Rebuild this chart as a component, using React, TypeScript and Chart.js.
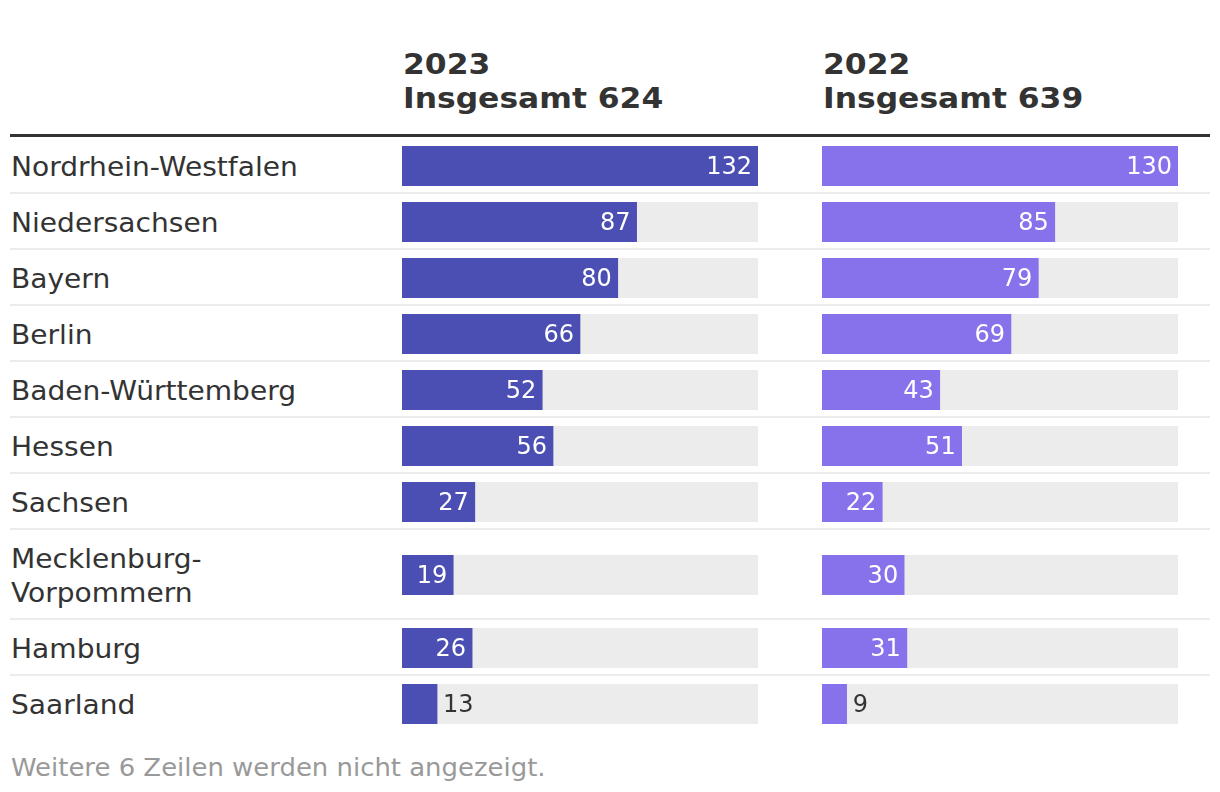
import React, { useEffect, useRef } from "react";
import { Chart, registerables } from "chart.js";

Chart.register(...registerables);

const categories: string[][] = [
  ["Nordrhein-Westfalen"],
  ["Niedersachsen"],
  ["Bayern"],
  ["Berlin"],
  ["Baden-Württemberg"],
  ["Hessen"],
  ["Sachsen"],
  ["Mecklenburg-", "Vorpommern"],
  ["Hamburg"],
  ["Saarland"],
];
const values2023: number[] = [132, 87, 80, 66, 52, 56, 27, 19, 26, 13];
const values2022: number[] = [130, 85, 79, 69, 43, 51, 22, 30, 31, 9];
const columnYears: string[] = ["2023", "2022"];
const columnTotals: string[] = ["Insgesamt 624", "Insgesamt 639"];
const footnote = "Weitere 6 Zeilen werden nicht angezeigt.";

const FONT = "'DejaVu Sans', Verdana, sans-serif";
const COLORS = ["#4b4fb4", "#8872eb"];
const TRACK = "#ececec";
const TEXT = "#333333";

const valueLabelPlugin = {
  id: "valueLabel",
  afterDatasetsDraw(chart: any) {
    const ctx = chart.ctx;
    const meta = chart.getDatasetMeta(0);
    const ds = chart.data.datasets[0];
    const max = chart.options.scales.x.max;
    meta.data.forEach((bar: any, i: number) => {
      const v = ds.data[i] as number;
      const inside = v / max > 0.12;
      ctx.save();
      ctx.font = `24px ${FONT}`;
      ctx.textBaseline = "middle";
      if (inside) {
        ctx.fillStyle = "#ffffff";
        ctx.textAlign = "right";
        ctx.fillText(String(v), bar.x - 6, bar.y + 2);
      } else {
        ctx.fillStyle = TEXT;
        ctx.textAlign = "left";
        ctx.fillText(String(v), bar.x + 6, bar.y + 2);
      }
      ctx.restore();
    });
  },
};

function BarCell({ value, max, color, label }: { value: number; max: number; color: string; label: string }) {
  const ref = useRef<HTMLCanvasElement | null>(null);
  useEffect(() => {
    if (!ref.current) return;
    const chart = new Chart(ref.current, {
      type: "bar",
      data: {
        labels: [label],
        datasets: [
          { data: [value], backgroundColor: color, barPercentage: 1, categoryPercentage: 1, order: 0, grouped: false } as any,
          { data: [max], backgroundColor: TRACK, barPercentage: 1, categoryPercentage: 1, order: 1, grouped: false } as any,
        ],
      },
      options: {
        indexAxis: "y",
        animation: false,
        responsive: false,
        maintainAspectRatio: false,
        devicePixelRatio: 1,
        layout: { padding: 0 },
        plugins: { legend: { display: false }, tooltip: { enabled: false } },
        scales: {
          x: { display: false, min: 0, max },
          y: { display: false },
        },
      } as any,
      plugins: [valueLabelPlugin],
    });
    return () => chart.destroy();
  }, [value, max, color, label]);
  return <canvas ref={ref} width={356} height={40} style={{ display: "block", width: 356, height: 40 }} />;
}

export default function App() {
  const max2023 = Math.max(...values2023);
  const max2022 = Math.max(...values2022);
  const rowHeights = categories.map((c) => (c.length > 1 ? 90 : 56));
  const rowTops: number[] = [];
  let acc = 137;
  rowHeights.forEach((h) => {
    rowTops.push(acc);
    acc += h;
  });
  const colLefts = [402, 822];

  return (
    <div style={{ position: "absolute", left: 0, top: 0, width: 1220, height: 792, background: "#fff", fontFamily: FONT, color: TEXT, overflow: "hidden" }}>
      {columnYears.map((y, ci) => (
        <div key={y} style={{ position: "absolute", left: colLefts[ci] + 1, top: 48, fontWeight: "bold", fontSize: 28, lineHeight: "34px", whiteSpace: "nowrap", transform: "scaleX(1.12)", transformOrigin: "left top" }}>
          <div>{y}</div>
          <div>{columnTotals[ci]}</div>
        </div>
      ))}
      <div style={{ position: "absolute", left: 10, top: 134, width: 1200, height: 3, background: "#333" }} />
      {categories.map((cat, i) => {
        const top = rowTops[i];
        const h = rowHeights[i];
        const barTop = top + (h - 40) / 2 + 1;
        return (
          <React.Fragment key={i}>
            <div style={{ position: "absolute", left: 11, top: top + 2, height: h, display: "flex", flexDirection: "column", justifyContent: "center", fontSize: 27, lineHeight: "34px", whiteSpace: "nowrap", transform: "scaleX(1.04)", transformOrigin: "left top" }}>
              {cat.map((l, j) => (
                <div key={j}>{l}</div>
              ))}
            </div>
            <div style={{ position: "absolute", left: colLefts[0], top: barTop }}>
              <BarCell value={values2023[i]} max={max2023} color={COLORS[0]} label={cat.join(" ")} />
            </div>
            <div style={{ position: "absolute", left: colLefts[1], top: barTop }}>
              <BarCell value={values2022[i]} max={max2022} color={COLORS[1]} label={cat.join(" ")} />
            </div>
            {i < categories.length - 1 && (
              <div style={{ position: "absolute", left: 10, top: top + h - 1, width: 1200, height: 2, background: "#ececec" }} />
            )}
          </React.Fragment>
        );
      })}
      <div style={{ position: "absolute", left: 11, top: 752, fontSize: 24, lineHeight: "32px", color: "#999", whiteSpace: "nowrap", transform: "scaleX(1.08)", transformOrigin: "left top" }}>{footnote}</div>
    </div>
  );
}
